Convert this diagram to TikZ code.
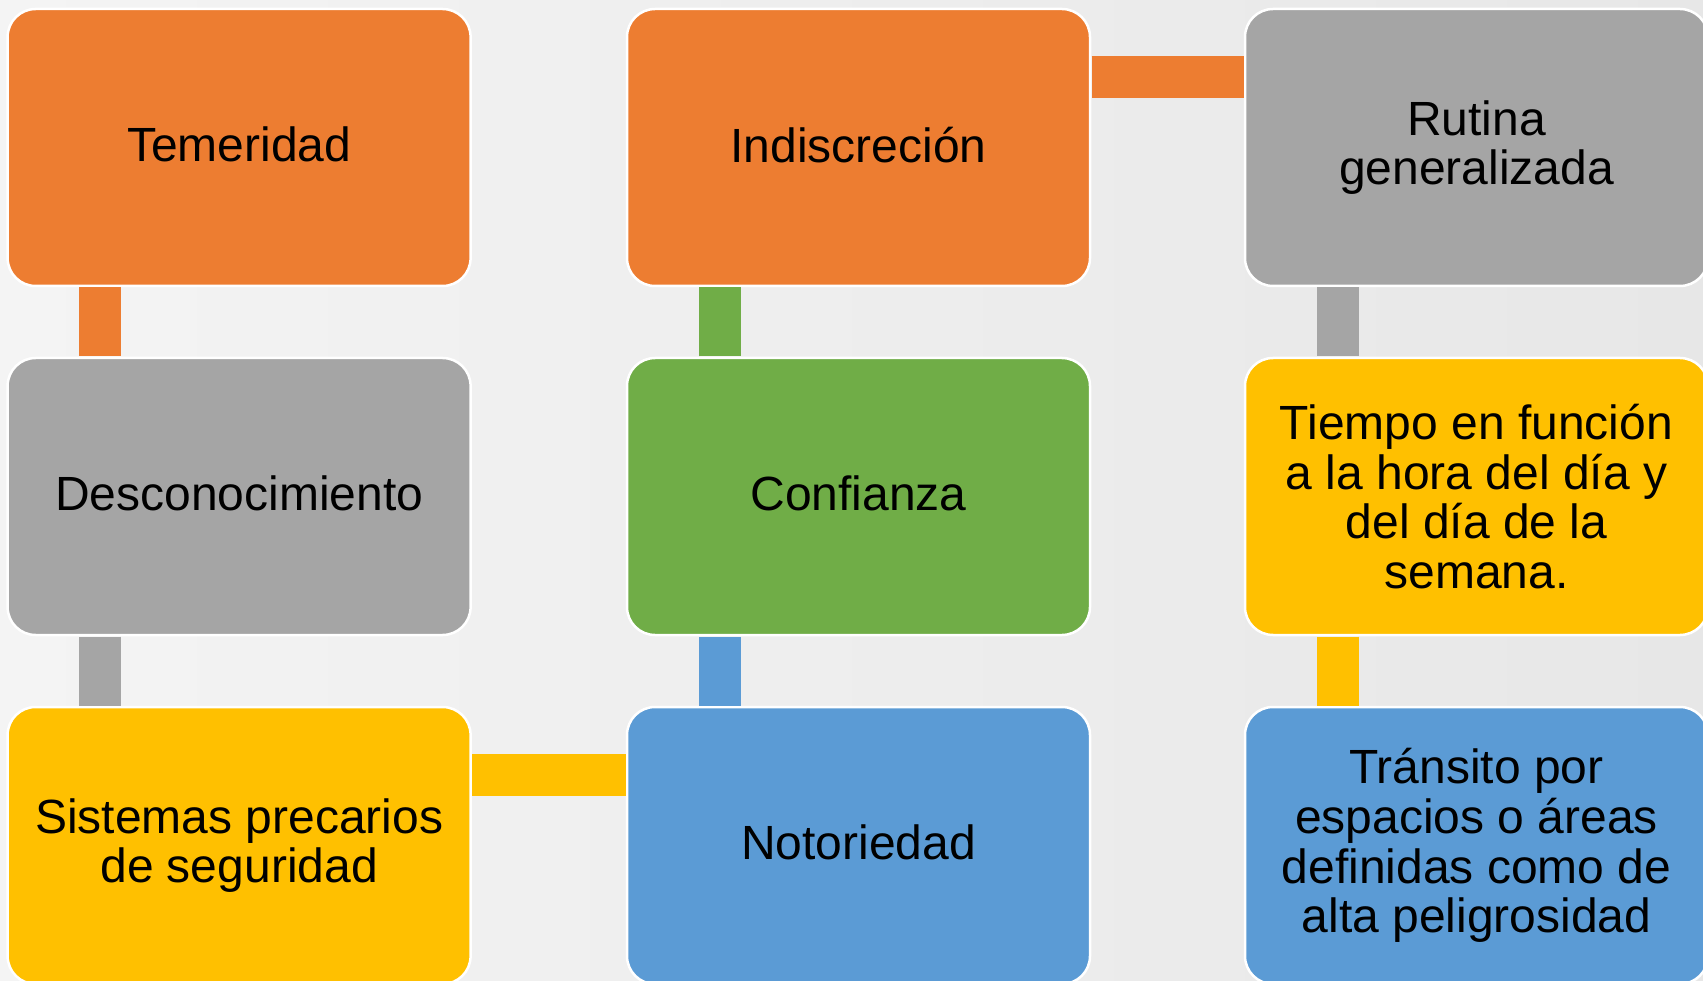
\documentclass[tikz,border=0pt]{standalone}
\usepackage{fontspec}
\setmainfont{Liberation Sans}
\definecolor{cOrange}{HTML}{ED7D31}
\definecolor{cGray}{HTML}{A5A5A5}
\definecolor{cGreen}{HTML}{70AD47}
\definecolor{cYellow}{HTML}{FFC000}
\definecolor{cBlue}{HTML}{5B9BD5}
\definecolor{bgL}{HTML}{F4F4F4}
\definecolor{bgR}{HTML}{E7E7E7}
\tikzset{
  box/.style={draw=white, line width=2.5pt, rounded corners=28pt,
    minimum width=463pt, minimum height=277pt, inner sep=0pt, outer sep=0pt,
    anchor=north west, align=center, text=black,
    font=\fontsize{48}{49.7}\selectfont},
  one/.style={text depth=6pt},
  link/.style={line width=42pt, shorten >=1.5pt, shorten <=1.5pt},
}
\begin{document}
\begin{tikzpicture}[x=1pt,y=-1pt]
\useasboundingbox (0,0) rectangle (1703,981);
\clip (0,0) rectangle (1703,981);
\shade[left color=bgL, right color=bgR] (0,0) rectangle (1703,981);

% column 1
\node[box, one, fill=cOrange] (tem) at (7.6,9) {Temeridad};
\node[box, one, fill=cGray] (des) at (7.6,358) {Desconocimiento};
\node[box, fill=cYellow] (sis) at (7.6,707) {Sistemas precarios\\de seguridad};
% column 2
\node[box, one, fill=cOrange] (ind) at (627,9) {Indiscreción};
\node[box, one, fill=cGreen] (con) at (627,358) {Confianza};
\node[box, one, fill=cBlue] (not) at (627,707) {Notoriedad};
% column 3
\node[box, fill=cGray] (rut) at (1245,9) {Rutina\\generalizada};
\node[box, fill=cYellow] (tie) at (1245,358) {Tiempo en función\\a la hora del día y\\del día de la\\semana.};
\node[box, fill=cBlue] (tra) at (1245,707) {Tránsito por\\espacios o áreas\\definidas como de\\alta peligrosidad};

% connectors
\draw[link, cOrange] ([xshift=92.5pt]tem.south west) -- ([xshift=92.5pt]des.north west);
\draw[link, cGray] ([xshift=92.5pt]des.south west) -- ([xshift=92.5pt]sis.north west);
\draw[link, cYellow] ([yshift=-68pt]sis.north east) -- ([yshift=-68pt]not.north west);
\draw[link, cBlue] ([xshift=92.5pt]not.north west) -- ([xshift=92.5pt]con.south west);
\draw[link, cGreen] ([xshift=92.5pt]con.north west) -- ([xshift=92.5pt]ind.south west);
\draw[link, cOrange] ([yshift=-68pt]ind.north east) -- ([yshift=-68pt]rut.north west);
\draw[link, cGray] ([xshift=92.5pt]rut.south west) -- ([xshift=92.5pt]tie.north west);
\draw[link, cYellow] ([xshift=92.5pt]tie.south west) -- ([xshift=92.5pt]tra.north west);
\end{tikzpicture}
\end{document}
